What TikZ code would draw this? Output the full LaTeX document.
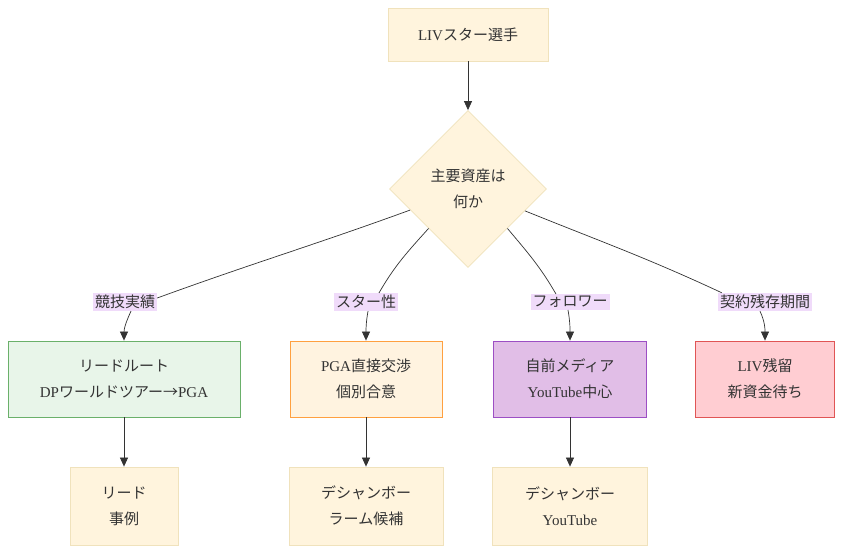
\documentclass[tikz,border=0pt]{standalone}
\usepackage{fontspec}
\setmainfont{Noto Sans CJK JP}
\newfontfamily\latinfont{Liberation Serif}
\newcommand{\enf}[1]{{\latinfont #1}}
\usetikzlibrary{arrows.meta, positioning, shapes.geometric, backgrounds, calc}

\definecolor{txt}{HTML}{333333}
\definecolor{lnk}{HTML}{333333}
\definecolor{ylwfill}{HTML}{FFF4DD}
\definecolor{ylwdraw}{HTML}{F0E2BC}
\definecolor{grnfill}{HTML}{E8F5E9}
\definecolor{grndraw}{HTML}{6AB06A}
\definecolor{orgfill}{HTML}{FFF3E0}
\definecolor{orgdraw}{HTML}{FFA040}
\definecolor{purfill}{HTML}{E1BEE7}
\definecolor{purdraw}{HTML}{9C4FC4}
\definecolor{redfill}{HTML}{FFCDD2}
\definecolor{reddraw}{HTML}{E05555}
\definecolor{lblfill}{HTML}{F0DBFA}

\tikzset{
  every node/.style={text=txt, font=\fontsize{15}{26}\selectfont, align=center},
  stepbox/.style={draw, rectangle, line width=0.8pt, inner sep=0pt},
  ylwbox/.style={stepbox, fill=ylwfill, draw=ylwdraw},
  grnbox/.style={stepbox, fill=grnfill, draw=grndraw},
  orgbox/.style={stepbox, fill=orgfill, draw=orgdraw},
  purbox/.style={stepbox, fill=purfill, draw=purdraw},
  redbox/.style={stepbox, fill=redfill, draw=reddraw},
  edgelbl/.style={fill=lblfill, inner sep=2pt},
  link/.style={draw=lnk, line width=0.7pt},
  arrowlink/.style={link, -{Triangle[length=9pt,width=8pt]}}
}

\begin{document}
\begin{tikzpicture}[x=1pt, y=1pt]
\useasboundingbox (0,0) rectangle (851,558);

% top and decision
\node[ylwbox, minimum width=160pt, minimum height=53pt] (star) at (468,523.5) {\enf{LIV}スター選手};
\node[diamond, aspect=1, fill=ylwfill, draw=ylwdraw, line width=0.8pt,
      minimum width=157pt, minimum height=157pt, inner sep=0pt] (asset) at (468,369) {主要資産は\\何か};

% edge labels
\node[edgelbl] (lbComp) at (125,256) {競技実績};
\node[edgelbl] (lbStar) at (366,256) {スター性};
\node[edgelbl] (lbFollow) at (570,256) {フォロワー};
\node[edgelbl] (lbContract) at (765,256) {契約残存期間};

% routes
\node[grnbox, minimum width=232pt, minimum height=76pt] (lead) at (124,179) {リードルート\\\enf{DP}ワールドツアー→\enf{PGA}};
\node[orgbox, minimum width=152pt, minimum height=76pt] (pga) at (366,179) {\enf{PGA}直接交渉\\個別合意};
\node[purbox, minimum width=153pt, minimum height=76pt] (media) at (570,179) {自前メディア\\\enf{YouTube}中心};
\node[redbox, minimum width=139pt, minimum height=76pt] (stay) at (765,179) {\enf{LIV}残留\\新資金待ち};

% examples
\node[ylwbox, minimum width=108pt, minimum height=78pt] (leadEx) at (124,52) {リード\\事例};
\node[ylwbox, minimum width=154pt, minimum height=78pt] (pgaEx) at (366,52) {デシャンボー\\ラーム候補};
\node[ylwbox, minimum width=155pt, minimum height=78pt] (mediaEx) at (570,52) {デシャンボー\\\enf{YouTube}};

\draw[arrowlink] (star) -- (asset);

\draw[link] (asset.200) to[out=200, in=20] ([yshift=4pt]lbComp.east);
\draw[link] (asset.south west) to[out=228, in=60] ([xshift=13pt]lbStar.north);
\draw[link] (asset.south east) to[out=-50, in=120] ([xshift=-14pt]lbFollow.north);
\draw[link] (asset.-21) to[out=-22, in=155] ([xshift=4pt]lbContract.north west);

\draw[arrowlink] ([xshift=6pt]lbComp.south) to[out=-115, in=90] (lead.north);
\draw[arrowlink] ([xshift=2pt]lbStar.south) to[out=-100, in=90] (pga.north);
\draw[arrowlink] ([xshift=-2pt]lbFollow.south) to[out=-80, in=90] (media.north);
\draw[arrowlink] ([xshift=-5pt]lbContract.south) to[out=-65, in=90] (stay.north);

\draw[arrowlink] (lead) -- (leadEx);
\draw[arrowlink] (pga) -- (pgaEx);
\draw[arrowlink] (media) -- (mediaEx);
\end{tikzpicture}
\end{document}
